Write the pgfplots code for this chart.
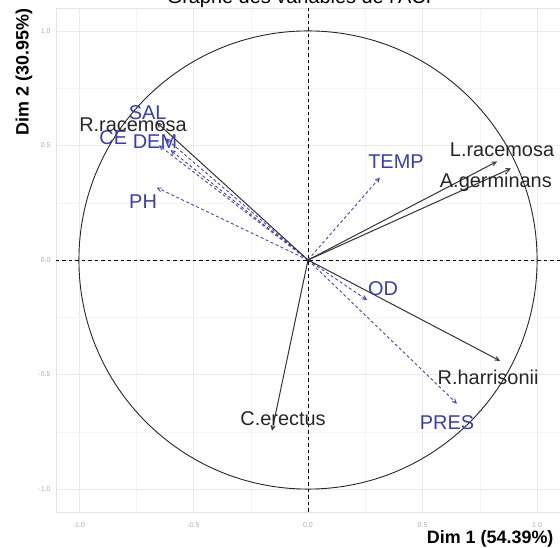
\documentclass[border=0pt]{standalone}
\usepackage{pgfplots}
\pgfplotsset{compat=1.18}
\usepackage{pgfplotstable}
\usepackage{fontspec}
\setmainfont{Liberation Sans}
\usetikzlibrary{arrows.meta}
\definecolor{supblue}{HTML}{4343C2}
\definecolor{suplab}{HTML}{3B3BB8}
\definecolor{actgray}{HTML}{333333}

% active variables (species): arrow end = coordinate
\pgfplotstableread{
x0 y0 u v
0 0 -0.66 0.60
0 0 0.825 0.43
0 0 0.886 0.40
0 0 0.838 -0.44
0 0 -0.157 -0.745
}\species
% supplementary variables
\pgfplotstableread{
x0 y0 u v
0 0 0.314 0.360
0 0 0.258 -0.175
0 0 0.650 -0.627
0 0 -0.660 0.316
0 0 -0.600 0.480
0 0 -0.650 0.500
0 0 -0.620 0.530
}\supvars

\newcommand{\lab}{\fontsize{20}{24}\selectfont}

\begin{document}
\begin{tikzpicture}
\useasboundingbox (-56bp,-36bp) rectangle (504bp,512bp);
\clip (-56bp,-36bp) rectangle (504bp,512bp);
\begin{axis}[
  at={(0,0)}, anchor=south west,
  scale only axis,
  width=504bp, height=504bp,
  xmin=-1.1, xmax=1.1, ymin=-1.1, ymax=1.1,
  xtick={-1,-0.5,0,0.5,1},
  ytick={-1,-0.5,0,0.5,1},
  minor xtick={-0.75,-0.25,0.25,0.75},
  minor ytick={-0.75,-0.25,0.25,0.75},
  grid=both,
  major grid style={line width=0.6bp, draw=gray!16},
  minor grid style={line width=0.4bp, draw=gray!9},
  axis line style={draw=gray!22, line width=0.5bp},
  major tick length=0pt, minor tick length=0pt,
  tick label style={font=\fontsize{7}{8}\selectfont, text=gray!65},
  xticklabel style={yshift=-7bp},
  yticklabel style={xshift=-2bp},
  /pgf/number format/.cd, fixed, fixed zerofill, precision=1, assume math mode=true,
  /pgfplots/.cd,
  clip=false,
]
% zero lines
\addplot[black, line width=0.8bp, dash pattern=on 3.5bp off 3bp] coordinates {(-1.1,0) (1.1,0)};
\addplot[black, line width=0.8bp, dash pattern=on 3.5bp off 3bp] coordinates {(0,-1.1) (0,1.1)};
% correlation circle
\draw[black!85, line width=0.9bp] (axis cs:0,0) circle[radius=1];
% supplementary variables
\addplot[supblue, line width=0.9bp, dash pattern=on 3bp off 2.5bp,
  quiver={u=\thisrow{u}, v=\thisrow{v},
    every arrow/.append style={-{Straight Barb[length=4bp,width=4bp]}}}]
  table[x=x0, y=y0] {\supvars};
% species
\addplot[actgray, line width=1bp,
  quiver={u=\thisrow{u}, v=\thisrow{v},
    every arrow/.append style={-{Straight Barb[length=4bp,width=4bp]}}}]
  table[x=x0, y=y0] {\species};
% labels
\begin{scope}[every node/.style={font=\lab, text=suplab, inner sep=0pt}]
\node at (axis cs:0.384,0.430) {TEMP};
\node at (axis cs:0.328,-0.123) {OD};
\node at (axis cs:0.607,-0.710) {PRES};
\node at (axis cs:-0.720,0.254) {PH};
\node at (axis cs:-0.668,0.518) {DEM};
\node at (axis cs:-0.850,0.535) {CE};
\node at (axis cs:-0.700,0.645) {SAL};
\end{scope}
\begin{scope}[every node/.style={font=\lab, text=black!85, inner sep=0pt}]
\node at (axis cs:-0.764,0.592) {R.racemosa};
\node at (axis cs:0.847,0.482) {L.racemosa};
\node at (axis cs:0.820,0.338) {A.germinans};
\node at (axis cs:0.786,-0.513) {R.harrisonii};
\node at (axis cs:-0.109,-0.693) {C.erectus};
\end{scope}
\end{axis}
% titles
\node[anchor=base, font=\lab] at (247bp,508bp) {Graphe des variables de l'ACP};
\node[anchor=east, font=\fontsize{18}{21}\selectfont\bfseries] at (501bp,-27bp) {Dim 1 (54.39\%)};
\node[rotate=90, font=\fontsize{18}{21}\selectfont\bfseries] at (-32bp,440bp) {Dim 2 (30.95\%)};
\end{tikzpicture}
\end{document}
